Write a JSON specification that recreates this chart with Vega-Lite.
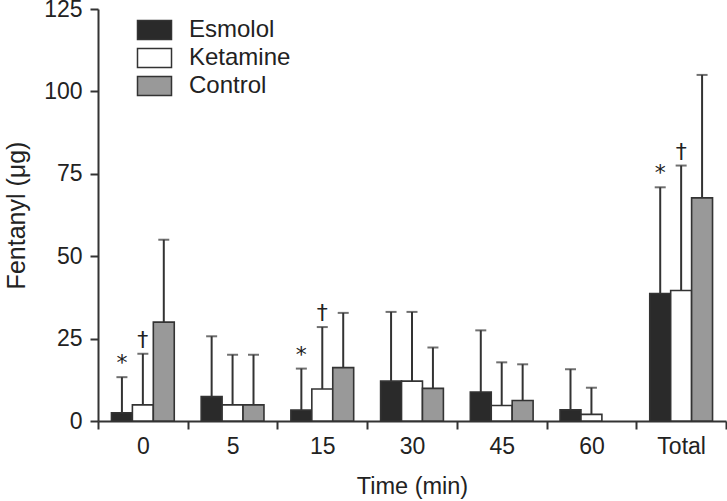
{
  "$schema": "https://vega.github.io/schema/vega-lite/v6.json",
  "width": 628,
  "height": 412,
  "autosize": {"type": "none"},
  "padding": {"left": 98, "top": 9, "right": 1, "bottom": 80},
  "background": "white",
  "config": {
    "view": {"stroke": null},
    "font": "Liberation Sans",
    "axis": {
      "domainColor": "#333333", "domainWidth": 2,
      "tickColor": "#333333", "tickWidth": 2, "tickSize": 8,
      "labelFontSize": 23, "labelColor": "#222222", "labelFont": "Liberation Sans",
      "titleFontSize": 23.5, "titleFontWeight": "normal", "titleColor": "#222222", "titleFont": "Liberation Sans",
      "grid": false
    }
  },
  "data": {
    "values": [
      {"time": "0", "group": "Esmolol", "mean": 2.5, "upper": 13.3, "sig": "*"},
      {"time": "0", "group": "Ketamine", "mean": 4.9, "upper": 20.4, "sig": "†"},
      {"time": "0", "group": "Control", "mean": 30.0, "upper": 55.0, "sig": ""},
      {"time": "5", "group": "Esmolol", "mean": 7.4, "upper": 25.7, "sig": ""},
      {"time": "5", "group": "Ketamine", "mean": 4.9, "upper": 20.1, "sig": ""},
      {"time": "5", "group": "Control", "mean": 4.9, "upper": 20.1, "sig": ""},
      {"time": "15", "group": "Esmolol", "mean": 3.3, "upper": 15.9, "sig": "*"},
      {"time": "15", "group": "Ketamine", "mean": 9.7, "upper": 28.5, "sig": "†"},
      {"time": "15", "group": "Control", "mean": 16.2, "upper": 32.8, "sig": ""},
      {"time": "30", "group": "Esmolol", "mean": 12.1, "upper": 33.1, "sig": ""},
      {"time": "30", "group": "Ketamine", "mean": 12.1, "upper": 33.1, "sig": ""},
      {"time": "30", "group": "Control", "mean": 9.9, "upper": 22.3, "sig": ""},
      {"time": "45", "group": "Esmolol", "mean": 8.8, "upper": 27.5, "sig": ""},
      {"time": "45", "group": "Ketamine", "mean": 4.7, "upper": 17.8, "sig": ""},
      {"time": "45", "group": "Control", "mean": 6.2, "upper": 17.2, "sig": ""},
      {"time": "60", "group": "Esmolol", "mean": 3.4, "upper": 15.7, "sig": ""},
      {"time": "60", "group": "Ketamine", "mean": 2.0, "upper": 10.1, "sig": ""},
      {"time": "Total", "group": "Esmolol", "mean": 38.7, "upper": 70.9, "sig": "*"},
      {"time": "Total", "group": "Ketamine", "mean": 39.6, "upper": 77.5, "sig": "†"},
      {"time": "Total", "group": "Control", "mean": 67.7, "upper": 105.0, "sig": ""}
    ]
  },
  "encoding": {
    "x": {
      "field": "time", "type": "nominal", "sort": null,
      "scale": {"paddingInner": 0, "paddingOuter": 0},
      "axis": {"title": "Time (min)", "labelAngle": 0, "tickBand": "extent", "labelPadding": 6, "titlePadding": 16}
    },
    "xOffset": {
      "field": "group", "type": "nominal",
      "scale": {"domain": ["Esmolol", "Ketamine", "Control"], "paddingInner": 0, "paddingOuter": 0.643}
    }
  },
  "layer": [
    {
      "mark": {"type": "rule", "stroke": "#333333", "strokeWidth": 2},
      "encoding": {
        "y": {"field": "mean", "type": "quantitative"},
        "y2": {"field": "upper"}
      }
    },
    {
      "mark": {"type": "tick", "color": "#333333", "size": 11, "thickness": 2, "orient": "horizontal"},
      "encoding": {
        "y": {"field": "upper", "type": "quantitative"}
      }
    },
    {
      "mark": {"type": "bar", "stroke": "#333333", "strokeWidth": 1.6},
      "encoding": {
        "y": {
          "field": "mean", "type": "quantitative",
          "scale": {"domain": [0, 125], "nice": false},
          "axis": {"title": "Fentanyl (μg)", "titleFontSize": 25, "values": [0, 25, 50, 75, 100, 125], "labelPadding": 8, "titlePadding": 14}
        },
        "fill": {
          "field": "group", "type": "nominal",
          "scale": {"domain": ["Esmolol", "Ketamine", "Control"], "range": ["#2a2a2a", "#ffffff", "#999999"]},
          "legend": {
            "title": null, "orient": "none", "legendX": 37, "legendY": 9,
            "symbolType": "M-1,-1L2.58,-1L2.58,1L-1,1Z",
            "symbolSize": 361, "symbolStrokeColor": "#333333", "symbolStrokeWidth": 1.5,
            "labelFontSize": 24, "labelColor": "#222222", "labelFont": "Liberation Sans",
            "labelOffset": 30, "rowPadding": 2
          }
        }
      }
    },
    {
      "transform": [{"filter": "datum.sig != ''"}],
      "mark": {"type": "text", "fontSize": 22, "font": "DejaVu Sans", "color": "#222222", "baseline": "bottom", "dy": -2},
      "encoding": {
        "y": {"field": "upper", "type": "quantitative"},
        "text": {"field": "sig"}
      }
    }
  ]
}
